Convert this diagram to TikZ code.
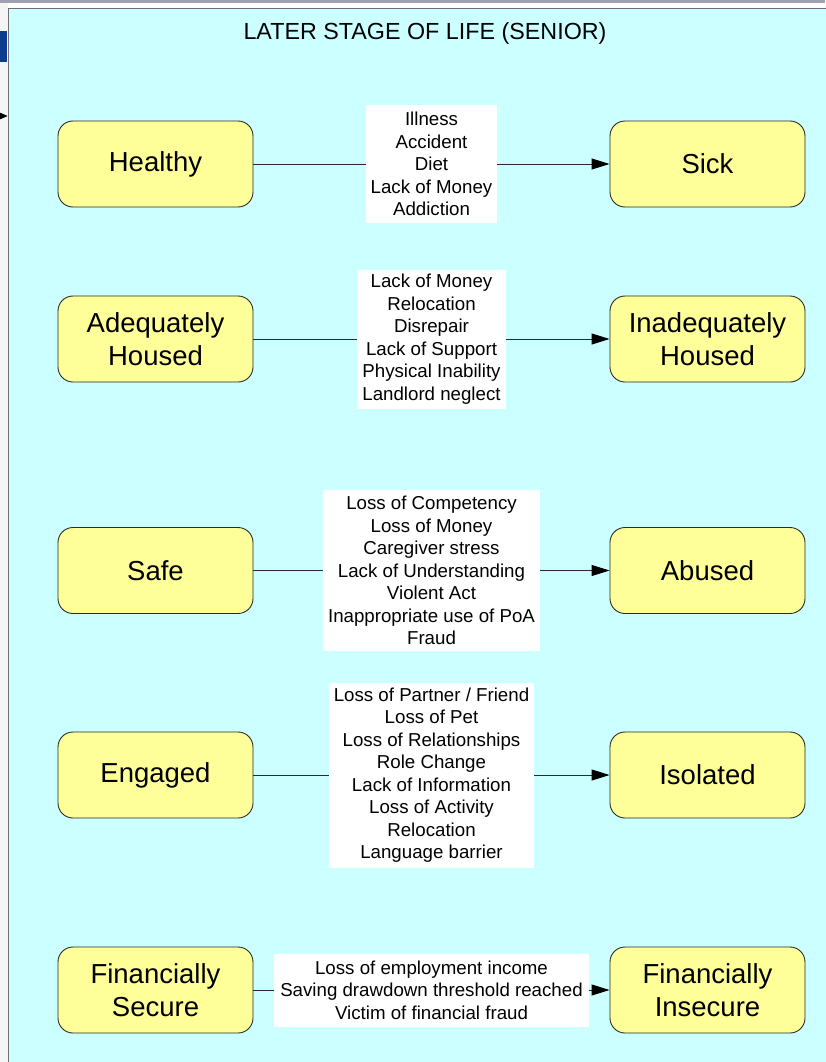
\documentclass[tikz,border=0pt]{standalone}
\usepackage{fontspec}
\setmainfont{Liberation Sans}
\usetikzlibrary{arrows.meta}
\definecolor{panelcyan}{HTML}{CCFFFF}
\definecolor{stateyellow}{HTML}{FFFF99}
\definecolor{edgegray}{HTML}{2A2A2A}
\definecolor{framegray}{HTML}{6E6E6E}
\definecolor{stripgray}{HTML}{F5F5F5}
\definecolor{bandgray}{HTML}{9EA2AE}
\definecolor{tabblue}{HTML}{0D3B8E}
\begin{document}
\begin{tikzpicture}[x=1pt,y=-1pt,
  state/.style={draw=edgegray, line width=0.9pt, fill=stateyellow,
    rounded corners=15pt, minimum width=195pt, minimum height=86pt,
    align=center, inner sep=0pt,
    font=\fontsize{27.5}{33}\selectfont},
  cause/.style={fill=white, align=center, inner xsep=5pt, inner ysep=0pt,
    font=\fontsize{18.7}{22.5}\selectfont},
  change/.style={draw=edgegray, line width=0.9pt,
    -{Triangle[length=18pt,width=11pt,color=black]}},
  title/.style={anchor=base, font=\fontsize{23.3}{28}\selectfont}]

  % page frame: left strip, top band and the cyan panel
  \useasboundingbox (0,0) rectangle (825,1062);
  \fill[white] (0,0) rectangle (825,1062);
  \fill[stripgray] (0,0) rectangle (8,1062);
  \fill[bandgray] (0,0) rectangle (825,2.7);
  \fill[tabblue] (0,31) rectangle (7,62);
  \fill[panelcyan] (8,8) rectangle (830,1070);
  \draw[framegray, line width=1.3pt] (8.4,1070) -- (8.4,8.4) -- (830,8.4);

  % incoming arrow from the neighbouring panel
  \coordinate (inA) at (-6,116);
  \coordinate (inB) at (7.5,116);
  \draw[black, -{Triangle[length=8pt,width=7pt]}] (inA) -- (inB);

  \node[title] (ttl) at (425,39.3) {LATER STAGE OF LIFE (SENIOR)};

  % states before and after
  \node[state] (healthy) at (155.5,164) {Healthy};
  \node[state] (sick)    at (707.5,164) {Sick};
  \node[state] (adeq)    at (155.5,339) {Adequately\\Housed};
  \node[state] (inadeq)  at (707.5,339) {Inadequately\\Housed};
  \node[state] (safe)    at (155.5,570.5) {Safe};
  \node[state] (abused)  at (707.5,570.5) {Abused};
  \node[state] (engaged) at (155.5,775) {Engaged};
  \node[state] (isolated) at (707.5,775) {Isolated};
  \node[state] (fsecure) at (155.5,990) {Financially\\Secure};
  \node[state] (finsec)  at (707.5,990) {Financially\\Insecure};

  % transitions with their causes
  \draw[change] (healthy) -- (sick)
    node[cause, midway, minimum height=118pt] (c1)
    {Illness\\Accident\\Diet\\Lack of Money\\Addiction};
  \draw[change] (adeq) -- (inadeq)
    node[cause, midway, minimum height=139pt] (c2)
    {Lack of Money\\Relocation\\Disrepair\\Lack of Support\\Physical Inability\\Landlord neglect};
  \draw[change] (safe) -- (abused)
    node[cause, midway, minimum height=161pt] (c3)
    {Loss of Competency\\Loss of Money\\Caregiver stress\\Lack of Understanding\\Violent Act\\Inappropriate use of PoA\\Fraud};
  \draw[change] (engaged) -- (isolated)
    node[cause, midway, minimum height=185pt] (c4)
    {Loss of Partner / Friend\\Loss of Pet\\Loss of Relationships\\Role Change\\Lack of Information\\Loss of Activity\\Relocation\\Language barrier};
  \draw[change] (fsecure) -- (finsec)
    node[cause, midway, minimum height=73pt, inner xsep=6pt] (c5)
    {Loss of employment income\\Saving drawdown threshold reached\\Victim of financial fraud};
\end{tikzpicture}
\end{document}
